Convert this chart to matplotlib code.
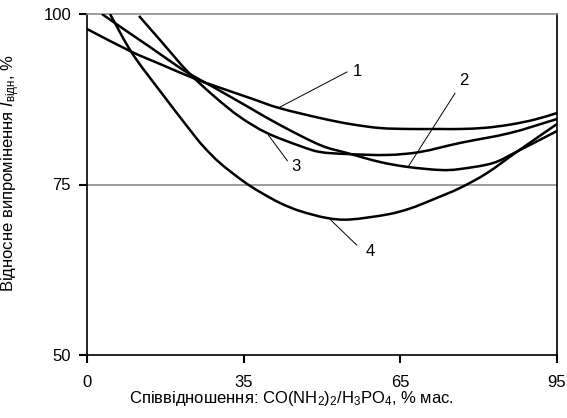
import numpy as np
import matplotlib
matplotlib.use('Agg')
import matplotlib.pyplot as plt
from matplotlib.path import Path
from matplotlib.patches import PathPatch

plt.rcParams['font.family'] = ['Liberation Sans', 'DejaVu Sans']
plt.rcParams['mathtext.fontset'] = 'custom'
plt.rcParams['mathtext.rm'] = 'Liberation Sans'
plt.rcParams['mathtext.it'] = 'Liberation Sans:italic'
plt.rcParams['mathtext.bf'] = 'Liberation Sans:bold'

# ---- data ----
x_ticks = [0, 35, 65, 95]
x_tick_labels = ['0', '35', '65', '95']
y_ticks = [50, 75, 100]
y_tick_labels = ['50', '75', '100']

x1 = [0, 9.61, 16.31, 23.68, 28.60, 36.21, 41.77, 49.62, 55.36, 61.11, 66.85,
      72.60, 76.42, 81.21, 86.00, 90.79, 95]
y1 = [97.80, 94.57, 92.67, 90.62, 89.44, 87.68, 86.22, 84.75, 83.87, 83.28, 83.14,
      83.14, 83.14, 83.31, 83.78, 84.53, 85.48]

x2 = [3.35, 8.49, 14.07, 18.54, 22.56, 28.60, 36.21, 41.96, 49.62, 54.79, 61.11,
      66.47, 72.60, 76.42, 82.74, 87.53, 95]
y2 = [100.0, 97.65, 95.16, 93.11, 91.35, 89.15, 86.22, 83.72, 80.79, 79.62, 78.30,
      77.57, 77.13, 77.27, 78.15, 79.91, 82.84]

x3 = [11.62, 16.31, 22.56, 28.60, 34.18, 39.47, 45.79, 49.62, 54.79, 62.45, 68.77,
      76.42, 86.00, 95]
y3 = [99.71, 96.19, 91.50, 87.83, 84.90, 82.55, 80.65, 79.77, 79.47, 79.33, 79.77,
      81.09, 82.55, 84.60]

x4 = [5.14, 10.05, 16.31, 23.01, 25.91, 29.71, 34.85, 38.13, 41.96, 45.79, 50.96,
      55.36, 62.45, 66.85, 71.25, 76.42, 81.60, 87.53, 95]
y4 = [100.0, 94.28, 88.71, 82.99, 80.65, 78.15, 75.51, 73.90, 72.29, 71.11, 70.09,
      69.87, 70.60, 71.48, 72.80, 74.49, 76.68, 79.91, 83.87]

curve_labels = ['1', '2', '3', '4']

# ---- scale helpers ----
tick_pos = np.arange(len(x_ticks), dtype=float)


def fwd(v):
    return np.interp(v, x_ticks, tick_pos)


def inv(p):
    return np.interp(p, tick_pos, x_ticks)


def smooth_path(xs, ys):
    """Smooth Bezier path through the read points (Catmull-Rom in axis space)."""
    P = np.column_stack([fwd(np.asarray(xs, float)), np.asarray(ys, float)])
    n = len(P)
    verts = [P[0]]
    codes = [Path.MOVETO]
    for i in range(n - 1):
        p0 = P[i - 1] if i > 0 else 2 * P[0] - P[1]
        p3 = P[i + 2] if i + 2 < n else 2 * P[-1] - P[-2]
        c1 = P[i] + (P[i + 1] - p0) / 6.0
        c2 = P[i + 1] - (p3 - P[i]) / 6.0
        verts += [c1, c2, P[i + 1]]
        codes += [Path.CURVE4] * 3
    verts = np.array(verts)
    verts[:, 0] = inv(verts[:, 0])
    return Path(verts, codes)


# ---- figure ----
fig = plt.figure(figsize=(5.67, 4.18), dpi=100)
W, H = 567, 418
ax = fig.add_axes([87 / W, 1 - 355 / H, 470 / W, 341 / H])

ax.set_xscale('function', functions=(fwd, inv))
ax.set_xlim(0, 95)
ax.set_ylim(50, 100)

ax.axhline(75, color='#8c8c8c', lw=1.2, zorder=1)

for xs, ys in [(x1, y1), (x2, y2), (x3, y3), (x4, y4)]:
    ax.add_patch(PathPatch(smooth_path(xs, ys), fill=False, edgecolor='black',
                           lw=1.8, capstyle='butt', zorder=3))

# curve labels with leader lines
leaders = [
    ((41.96, 86.36), (54.79, 91.50), (56.80, 91.64)),
    ((66.50, 77.61), (75.47, 88.37), (77.06, 90.22)),
    ((39.72, 82.26), (43.36, 78.49), (44.92, 77.64)),
    ((51.53, 69.90), (56.64, 66.13), (59.25, 65.18)),
]
for lab, (p0, p1, pt) in zip(curve_labels, leaders):
    ax.plot([p0[0], p1[0]], [p0[1], p1[1]], color='black', lw=0.7, zorder=2)
    ax.text(pt[0], pt[1], lab, ha='center', va='center', fontsize=12)

ax.set_xticks(x_ticks)
ax.set_xticklabels(x_tick_labels)
ax.set_yticks(y_ticks)
ax.set_yticklabels(y_tick_labels)
ax.minorticks_off()
ax.tick_params(axis='both', direction='out', length=6, width=1.5, labelsize=12,
               color='black')
ax.tick_params(axis='y', pad=5.5)
ax.tick_params(axis='x', pad=8.5)

for s in ['left', 'bottom', 'right']:
    ax.spines[s].set_color('black')
    ax.spines[s].set_linewidth(1.2)
ax.spines['top'].set_color('#8c8c8c')
ax.spines['top'].set_linewidth(1.2)

ax.set_xlabel(r'Співвідношення: CO(NH$_2$)$_2$/H$_3$PO$_4$, % мас.', fontsize=12)
ax.xaxis.set_label_coords((291.5 - 87) / 470, (355 - 389) / 341)
ax.xaxis.label.set_va('top')

ax.set_ylabel(r'Відносне випромінення $\mathit{I}_{\mathrm{відн}}$, %', fontsize=12)
ax.yaxis.set_label_coords((22 - 87) / 470, (355 - 173.5) / 341)

fig.savefig('out.png', dpi=100)
